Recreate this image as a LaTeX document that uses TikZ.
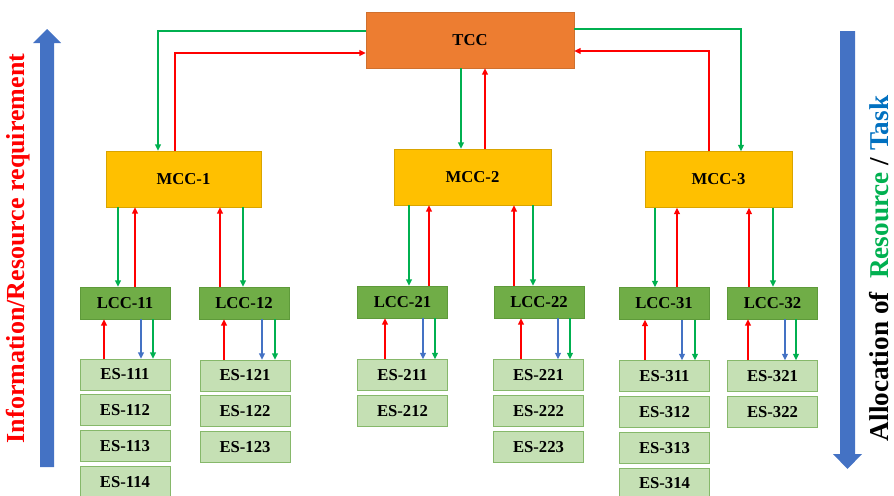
\documentclass[tikz,border=0pt]{standalone}
\usepackage{fontspec}
\setmainfont{Liberation Serif}
\usetikzlibrary{arrows.meta,positioning}
\usepackage{xcolor}
\definecolor{tccfill}{HTML}{ED7D31}
\definecolor{tccline}{HTML}{D0702E}
\definecolor{mccfill}{HTML}{FFC000}
\definecolor{mccline}{HTML}{D9A400}
\definecolor{lccfill}{HTML}{70AD47}
\definecolor{lccline}{HTML}{5E9A3A}
\definecolor{esfill}{HTML}{C5E0B4}
\definecolor{esline}{HTML}{86B86A}
\definecolor{linkgreen}{HTML}{00B050}
\definecolor{linkred}{HTML}{FF0000}
\definecolor{linkblue}{HTML}{4472C4}
\definecolor{taskblue}{HTML}{0070C0}

\begin{document}
\begin{tikzpicture}[
  x=0.75pt, y=-0.75pt,
  node distance=3pt,
  box/.style={draw, line width=0.6pt, inner sep=0pt, minimum height=42pt, font=\fontsize{12.5}{14}\selectfont\bfseries},
  tccbox/.style={box, fill=tccfill, draw=tccline, minimum width=156pt},
  mccbox/.style={box, fill=mccfill, draw=mccline},
  lccbox/.style={box, fill=lccfill, draw=lccline, minimum width=67.5pt, minimum height=24pt},
  esbox/.style={box, fill=esfill, draw=esline, minimum width=67.5pt, minimum height=23.25pt},
  link/.style={line width=0.9pt},
  down/.style={link, draw=linkgreen, -{Triangle[length=4.6pt, width=4.4pt, fill=linkgreen]}},
  up/.style={link, draw=linkred, -{Triangle[length=4.6pt, width=4.4pt, fill=linkred]}},
  task/.style={link, draw=linkblue, -{Triangle[length=4.6pt, width=4.4pt, fill=linkblue]}},
  sidetext/.style={rotate=90, font=\fontsize{19.5}{22}\selectfont\bfseries, inner sep=0pt}
]
\useasboundingbox (0,0) rectangle (894,496);

% control centres
\node[tccbox] (tcc) at (470,40) {TCC};
\node[mccbox, minimum width=116.25pt] (mcc1) at (183.5,179) {MCC-1};
\node[mccbox, minimum width=117.75pt] (mcc2) at (472.5,177) {MCC-2};
\node[mccbox, minimum width=110.25pt] (mcc3) at (718.5,179.5) {MCC-3};

\node[lccbox] (lcc11) at (125,303) {LCC-11};
\node[lccbox] (lcc12) at (244,303) {LCC-12};
\node[lccbox] (lcc21) at (402.5,302) {LCC-21};
\node[lccbox] (lcc22) at (539,302) {LCC-22};
\node[lccbox] (lcc31) at (664,303.5) {LCC-31};
\node[lccbox] (lcc32) at (772.5,303) {LCC-32};

% edge servers
\node[esbox] (es111) at (125,374.5) {ES-111};
\node[esbox, below=of es111] (es112) {ES-112};
\node[esbox, below=of es112] (es113) {ES-113};
\node[esbox, below=of es113] (es114) {ES-114};
\node[esbox] (es121) at (245,375.5) {ES-121};
\node[esbox, below=of es121] (es122) {ES-122};
\node[esbox, below=of es122] (es123) {ES-123};
\node[esbox] (es211) at (402.5,375) {ES-211};
\node[esbox, below=of es211] (es212) {ES-212};
\node[esbox] (es221) at (538.5,375) {ES-221};
\node[esbox, below=of es221] (es222) {ES-222};
\node[esbox, below=of es222] (es223) {ES-223};
\node[esbox] (es311) at (664.5,376) {ES-311};
\node[esbox, below=of es311] (es312) {ES-312};
\node[esbox, below=of es312] (es313) {ES-313};
\node[esbox, below=of es313] (es314) {ES-314};
\node[esbox] (es321) at (772.5,376) {ES-321};
\node[esbox, below=of es321] (es322) {ES-322};

% TCC <-> MCC
\draw[down] (tcc.west |- 0,31) -| (158,0 |- mcc1.north);
\draw[up] (175,0 |- mcc1.north) |- (tcc.west |- 0,53);
\draw[down] (461,0 |- tcc.south) -- (461,0 |- mcc2.north);
\draw[up] (485,0 |- mcc2.north) -- (485,0 |- tcc.south);
\draw[down] (tcc.east |- 0,29) -| (741,0 |- mcc3.north);
\draw[up] (709,0 |- mcc3.north) |- (tcc.east |- 0,51);

% MCC <-> LCC
\foreach \m/\l/\g/\r in {mcc1/lcc11/118/135, mcc1/lcc12/243/220, mcc2/lcc21/409/429,
    mcc2/lcc22/533/514, mcc3/lcc31/655/677, mcc3/lcc32/773/749} {
  \draw[down] (\g,0 |- \m.south) -- (\g,0 |- \l.north);
  \draw[up] (\r,0 |- \l.north) -- (\r,0 |- \m.south);
}

% LCC <-> ES
\foreach \l/\e/\r/\b/\g in {lcc11/es111/104/141/153, lcc12/es121/224/262/275,
    lcc21/es211/385/423/435, lcc22/es221/521/558/570,
    lcc31/es311/645/682/695, lcc32/es321/748/785/796} {
  \draw[up] (\r,0 |- \e.north) -- (\r,0 |- \l.south);
  \draw[task] (\b,0 |- \l.south) -- (\b,0 |- \e.north);
  \draw[down] (\g,0 |- \l.south) -- (\g,0 |- \e.north);
}

% side arrows
\fill[linkblue] (40,467) -- (40,43) -- (33,43) -- (47,29) -- (61,43) -- (54,43) -- (54,467) -- cycle;
\fill[linkblue] (840,31) -- (840,454) -- (833,454) -- (847.5,469) -- (862,454) -- (855,454) -- (855,31) -- cycle;
\node[sidetext, text=linkred] (need) at (18,248.5) {Information/Resource requirement};
\node[sidetext, font=\fontsize{20.4}{22}\selectfont\bfseries] (alloc) at (879,268.5) {Allocation of\ \ \textcolor{linkgreen}{Resource} / \textcolor{taskblue}{Task}};
\end{tikzpicture}
\end{document}
